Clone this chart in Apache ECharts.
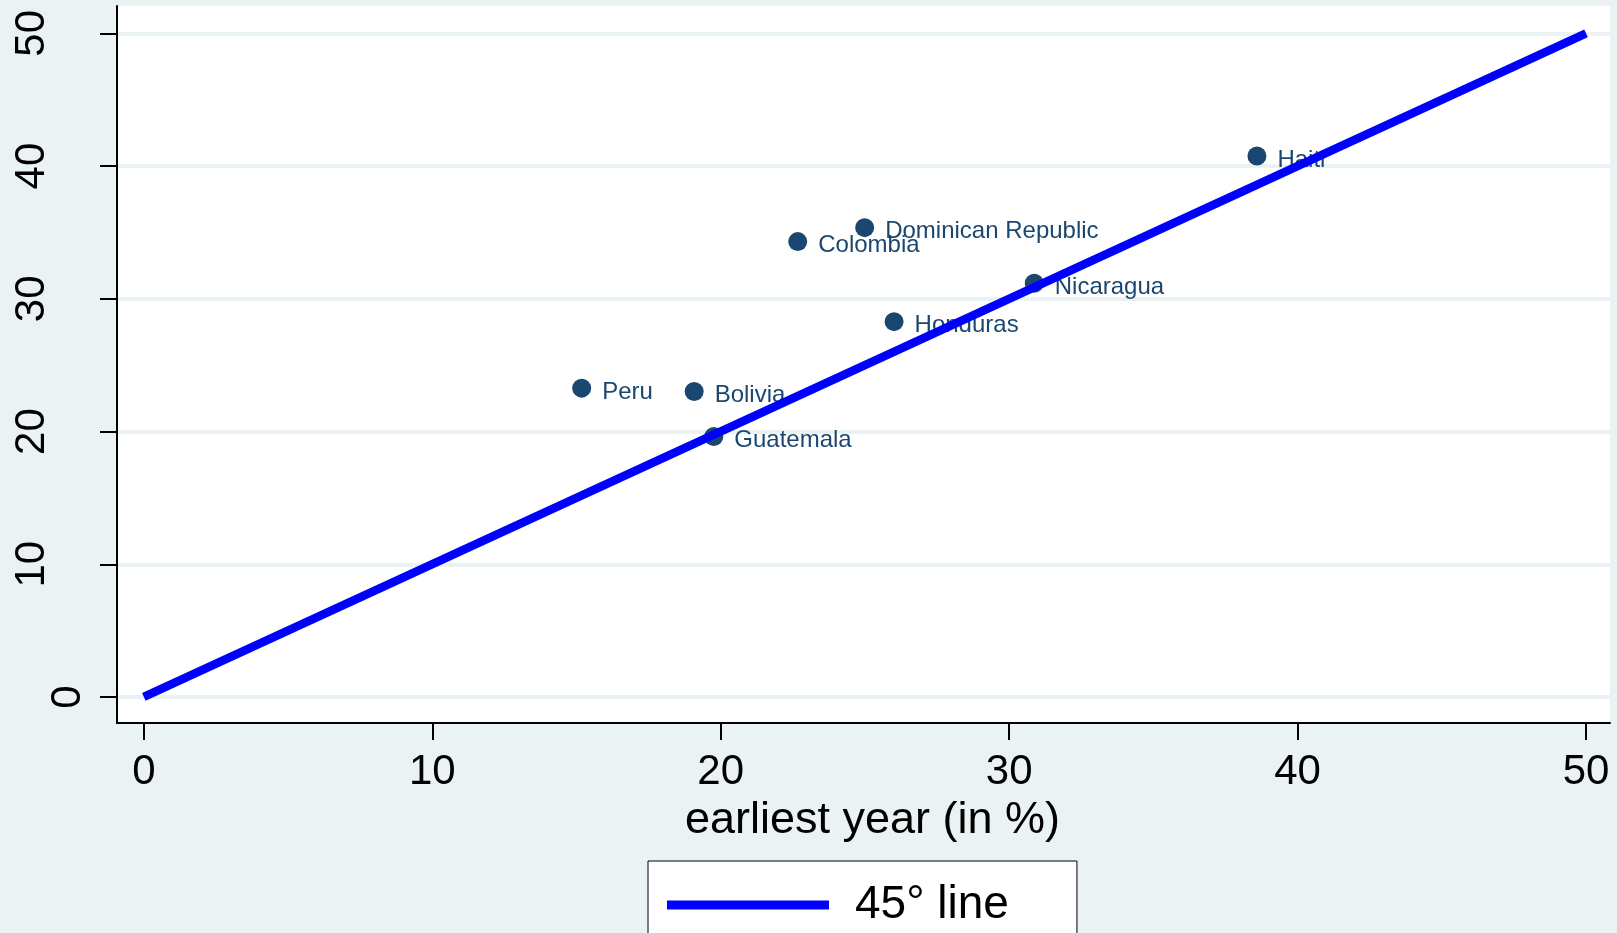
<!DOCTYPE html>
<html>
<head>
<meta charset="utf-8">
<script src="https://cdn.jsdelivr.net/npm/echarts@6/dist/echarts.min.js"></script>
<style>
  html, body { margin: 0; padding: 0; background: #eaf2f3; }
  #chart { width: 1617px; height: 933px; }
</style>
</head>
<body>
<div id="chart"></div>
<script>
// Countries and their shares: earliest year (x) vs latest year (y), in %
const countries = ['Peru', 'Bolivia', 'Guatemala', 'Colombia', 'Dominican Republic', 'Honduras', 'Nicaragua', 'Haiti'];
const earliestYear = [15.18, 19.08, 19.76, 22.67, 24.99, 26.01, 30.87, 38.59];
const latestYear   = [23.27, 23.01, 19.62, 34.31, 35.36, 28.28, 31.17, 40.76];

// Reference line y = x
const lineX = [0, 50];
const lineY = [0, 50];
const lineName = '45° line';

// Axis ticks
const xTicks = [0, 10, 20, 30, 40, 50];
const yTicks = [0, 10, 20, 30, 40, 50];
const yTicksUpper = [10, 20, 30, 40, 50];
const yTicksZero = [0];

const FONT = '"Liberation Sans", Arial, sans-serif';
const NAVY = '#1a476f';

const scatterData = countries.map((c, i) => [earliestYear[i], latestYear[i], c]);
const lineData = lineX.map((x, i) => [x, lineY[i]]);

const chart = echarts.init(document.getElementById('chart'), null, { renderer: 'canvas' });

const yRange = { min: -1.96, max: 52.06 };

chart.setOption({
  backgroundColor: '#eaf2f3',
  animation: false,
  grid: {
    left: 117, top: 6, right: 7, bottom: 210,
    show: true, backgroundColor: '#ffffff', borderWidth: 0
  },
  legend: {
    data: [lineName],
    left: 648, top: 861,
    orient: 'horizontal',
    icon: 'rect',
    itemWidth: 162, itemHeight: 9,
    backgroundColor: '#ffffff',
    borderColor: '#000000', borderWidth: 1,
    borderRadius: 0,
    padding: [14, 68, 60, 19],
    selectedMode: false,
    textStyle: {
      fontFamily: FONT, fontSize: 46, color: '#000000',
      lineHeight: 50, padding: [10, 0, 0, 21]
    }
  },
  xAxis: {
    type: 'value',
    min: -0.93, max: 50.83,
    name: 'earliest year (in %)',
    nameLocation: 'middle',
    nameGap: 62,
    nameTextStyle: { fontFamily: FONT, fontSize: 45, color: '#000000', padding: [0, 0, 0, 18] },
    axisLine: { show: true, onZero: false, lineStyle: { color: '#000000', width: 2 } },
    axisTick: { show: true, length: 17, customValues: xTicks, lineStyle: { color: '#000000', width: 2 } },
    axisLabel: { customValues: xTicks, margin: 28, fontFamily: FONT, fontSize: 42, color: '#000000' },
    splitLine: { show: false }
  },
  yAxis: [
    {
      type: 'value',
      min: yRange.min, max: yRange.max,
      position: 'left',
      axisLine: { show: true, onZero: false, lineStyle: { color: '#000000', width: 2 } },
      axisTick: { show: true, length: 17, customValues: yTicks, lineStyle: { color: '#000000', width: 2 } },
      axisLabel: { customValues: yTicksUpper, rotate: 90, margin: 64, fontFamily: FONT, fontSize: 42, color: '#000000' },
      splitLine: { show: true, lineStyle: { color: '#eaf2f3', width: 4 } }
    },
    {
      // second label track: the zero label sits closer to the axis
      type: 'value',
      min: yRange.min, max: yRange.max,
      position: 'left', offset: 0,
      axisLine: { show: false, onZero: false },
      axisTick: { show: false },
      axisLabel: { customValues: yTicksZero, rotate: 90, margin: 28, fontFamily: FONT, fontSize: 42, color: '#000000' },
      splitLine: { show: false }
    }
  ],
  series: [
    {
      type: 'scatter',
      name: 'countries',
      data: scatterData,
      z: 2,
      symbol: 'circle',
      symbolSize: 19,
      itemStyle: { color: NAVY, opacity: 1 },
      label: {
        show: true,
        position: 'right',
        distance: 11,
        offset: [0, 4],
        formatter: p => p.data[2],
        fontFamily: FONT, fontSize: 24, color: NAVY
      },
      emphasis: { disabled: true }
    },
    {
      type: 'line',
      name: lineName,
      data: lineData,
      z: 3,
      symbol: 'none',
      color: '#0000ff',
      lineStyle: { color: '#0000ff', width: 8.5, cap: 'butt' },
      emphasis: { disabled: true }
    }
  ]
});
</script>
</body>
</html>
